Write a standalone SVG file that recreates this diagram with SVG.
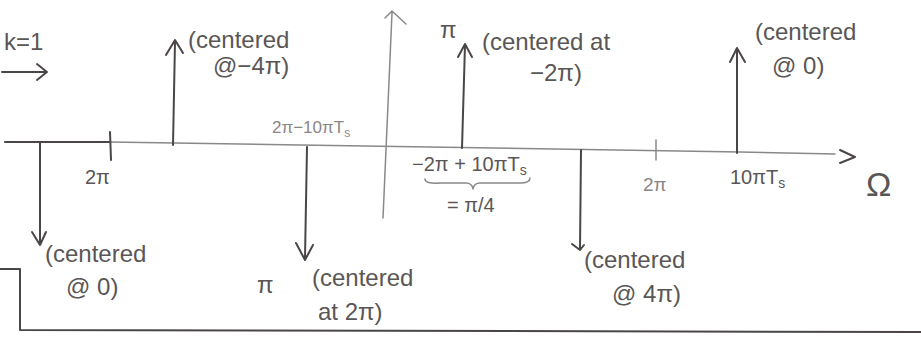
<svg xmlns="http://www.w3.org/2000/svg" width="921" height="337" viewBox="0 0 921 337">
<style>
.d{stroke:#4a4646;stroke-width:2;fill:none;stroke-linecap:round;stroke-linejoin:round}
.l{stroke:#8a8888;stroke-width:1.5;fill:none;stroke-linecap:round;stroke-linejoin:round}
.t{font-family:"Liberation Sans",Arial,sans-serif;font-size:24px;fill:#5a5656}
.tl{font-family:"Liberation Sans",Arial,sans-serif;font-size:17px;fill:#8a8686}
</style>
<rect width="921" height="337" fill="#ffffff"/>
<g id="connectors">
  <path id="axis-dark" class="d" d="M5,142 L110,142"/>
  <path id="axis" class="l" d="M110,142 L300,145 L740,152 L835,154"/>
  <path class="d" d="M840,150 L855,157 L840,163"/>
  <path class="d" d="M110,132 L111,160"/>
  <path class="l" d="M656,140 L656,160"/>
  <path class="d" d="M40,143 L40,243 M32,232 L40,245 L46,232"/>
  <path class="d" d="M173,145 L175,42 M166,55 L175,40 L183,53"/>
  <path class="d" d="M307,147 L305,258 M296,243 L305,260 L313,245"/>
  <path class="l" d="M383,218 L392,13 M385,18 L392,11 L406,24"/>
  <path class="d" d="M462,148 L465,45 M458,57 L465,44 L472,57"/>
  <path class="d" d="M581,150 L580,248 M572,244 L580,250 L584,245"/>
  <path class="d" d="M737,153 L737,50 M730,62 L737,48 L745,62"/>
  <path class="d" d="M2,72 L45,72 M37,64 L47,72 L37,80"/>
  <path class="d" d="M0,269 L20,269 L20,330 L921,332"/>
</g>
<g id="k1"><text class="t" x="4" y="50">k=1</text></g>
<g id="tick-2pi"><text class="t" x="85" y="184" style="font-size:20px">2π</text></g>
<g id="spike-m4pi"><text class="t" x="188" y="48">(centered</text><text class="t" x="213" y="74">@−4π)</text></g>
<g id="label-2pi-10piTs"><text class="tl" x="272" y="133">2π−10πT<tspan font-size="12" dy="4">s</tspan></text></g>
<g id="spike-0-down"><text class="t" x="45" y="262">(centered</text><text class="t" x="66" y="295">@ 0)</text></g>
<g id="spike-2pi"><text class="t" x="257" y="293">π</text><text class="t" x="312" y="286">(centered</text><text class="t" x="318" y="320">at 2π)</text></g>
<g id="spike-m2pi"><text class="t" x="440" y="38">π</text><text class="t" x="482" y="50">(centered at</text><text class="t" x="530" y="81">−2π)</text></g>
<g id="label-pi4"><text class="t" x="412" y="171" style="font-size:20px">−2π + 10πT<tspan font-size="14" dy="4">s</tspan></text><path class="l" d="M425,179 Q425,184 440,183 L466,183 Q472,183 473,189 Q474,183 480,183 L520,183 Q530,183 530,178"/><text class="t" x="447" y="212" style="font-size:20px">= π/4</text></g>
<g id="spike-4pi"><text class="t" x="584" y="268">(centered</text><text class="t" x="612" y="302">@ 4π)</text></g>
<g id="tick-2pi-b"><text class="tl" x="643" y="191" style="font-size:19px">2π</text></g>
<g id="spike-0-up"><text class="t" x="755" y="40">(centered</text><text class="t" x="772" y="74">@ 0)</text><text class="t" x="730" y="184" style="font-size:20px">10πT<tspan font-size="14" dy="4">s</tspan></text></g>
<g id="omega"><text class="t" x="866" y="196" style="font-size:34px">Ω</text></g>
</svg>
